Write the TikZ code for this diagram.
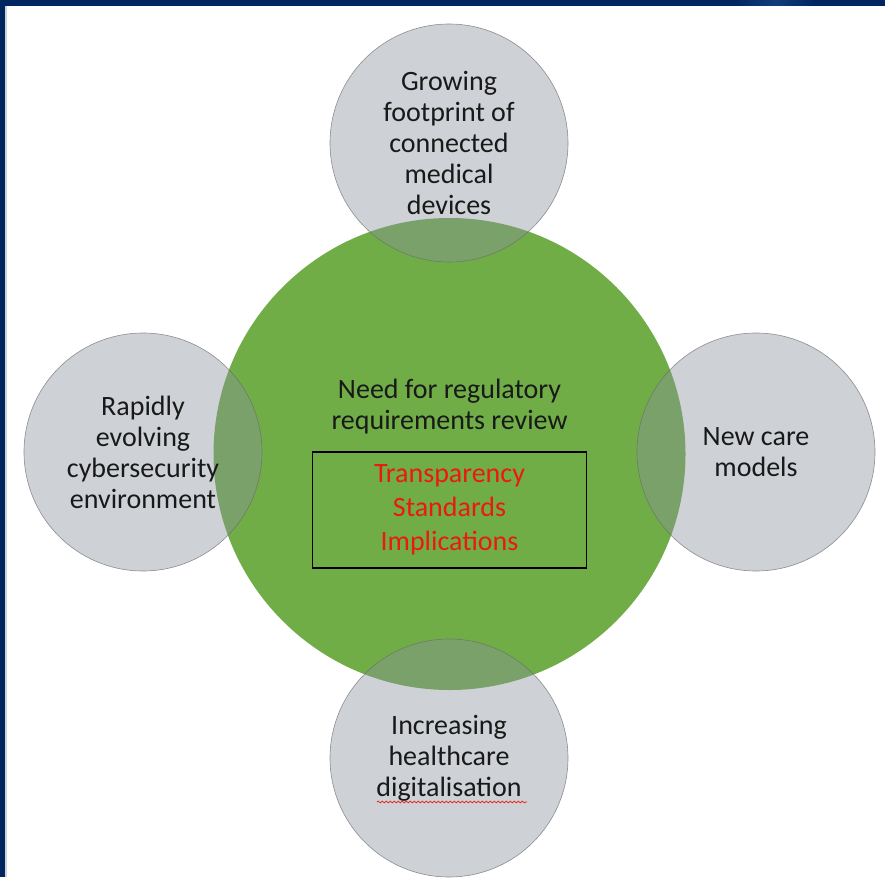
\documentclass[tikz,border=0pt]{standalone}
\usepackage{fontspec}
\setmainfont{Carlito}
\usetikzlibrary{decorations.pathmorphing}
\definecolor{navy}{RGB}{0,38,98}
\definecolor{navylight}{RGB}{16,62,122}
\definecolor{leaf}{RGB}{112,173,71}
\definecolor{mist}{RGB}{140,146,158}
\definecolor{rim}{RGB}{105,105,110}
\definecolor{alert}{RGB}{235,25,15}
\begin{document}
\begin{tikzpicture}[x=1pt,y=-1pt,
  every node/.style={font=\fontsize{28}{31}\selectfont, align=center, inner sep=0pt, text=black!90},
  hub/.style={circle, fill=leaf, minimum size=472pt},
  spoke/.style={circle, draw=rim, line width=0.6pt, fill=mist, fill opacity=0.42,
    draw opacity=0.7, text opacity=1, minimum size=238pt},
  framebox/.style={draw=black, line width=1.3pt, minimum width=274pt, minimum height=116pt,
    text=alert, font=\fontsize{28}{34}\selectfont},
]
% page and frame
\fill[white] (0,0) rectangle (885,877);
\useasboundingbox (0,0) rectangle (885,877);
\fill[navy] (0,0) rectangle (885,6);
\shade[left color=navy, right color=navy, middle color=navylight] (735,0) rectangle (815,6);
\fill[navy] (0,0) rectangle (5,877);
\fill[black!18] (5,6) rectangle (7,877);

% central circle
\node[hub] (hub) at (449.5,454) {};
\node (need) at (449.5,407) {Need for regulatory\\requirements review};
\node[framebox] (box) at (449.5,510) {Transparency\\Standards\\Implications};

% surrounding circles
\node[spoke] (top) at (449,143) {Growing\\footprint of\\connected\\medical\\devices};
\node[spoke] (left) at (143,452) {Rapidly\\evolving\\cybersecurity\\environment};
\node[spoke] (right) at (756,452) {New care\\models};
\node[spoke] (bottom) at (449,758) {Increasing\\healthcare\\digitalisation};

% spell-check squiggle under the last word
\draw[alert, line width=0.7pt, decorate, decoration={snake, amplitude=0.9pt, segment length=4pt}]
  (377,802) -- (527,802);
\end{tikzpicture}
\end{document}
